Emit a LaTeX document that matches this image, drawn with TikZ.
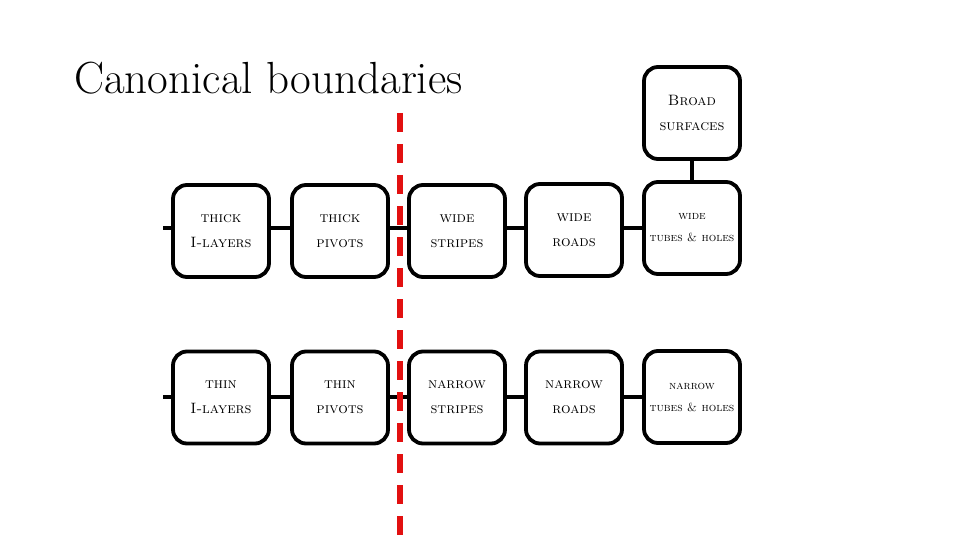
\documentclass[tikz,border=0pt]{standalone}
\begin{document}
\begin{tikzpicture}[x=1pt,y=-1pt,
  box/.style={draw=black, line width=3.8pt, rounded corners=14pt, minimum width=96pt, minimum height=92pt, align=center, inner sep=0pt, font=\fontsize{15}{25}\selectfont},
  tbox/.style={box, font=\fontsize{11.8}{22}\selectfont},
  link/.style={draw=black, line width=3.8pt},
  cut/.style={draw={rgb,255:red,226;green,16;blue,16}, line width=6.5pt, dash pattern=on 19pt off 12pt}]
\useasboundingbox (0,0) rectangle (960,540);
\node[anchor=base west, inner sep=0pt, font=\fontsize{45}{48}\selectfont] (title) at (74,94) {Canonical boundaries};
% top row
\node[box] (a1) at (221,231) {\textsc{thick}\\\textsc{I-layers}};
\node[box] (a2) at (340,231) {\textsc{thick}\\\textsc{pivots}};
\node[box] (a3) at (457,231) {\textsc{wide}\\\textsc{stripes}};
\node[box] (a4) at (574,230) {\textsc{wide}\\\textsc{roads}};
\node[tbox] (a5) at (692,228) {\textsc{wide}\\\textsc{tubes \& holes}};
\node[box] (b5) at (692,113) {\textsc{Broad}\\\textsc{surfaces}};
% bottom row
\node[box] (c1) at (221,397.5) {\textsc{thin}\\\textsc{I-layers}};
\node[box] (c2) at (340,397.5) {\textsc{thin}\\\textsc{pivots}};
\node[box] (c3) at (457,397.5) {\textsc{narrow}\\\textsc{stripes}};
\node[box] (c4) at (574,397.5) {\textsc{narrow}\\\textsc{roads}};
\node[tbox] (c5) at (692,397) {\textsc{narrow}\\\textsc{tubes \& holes}};
\coordinate (as) at (163,228);
\coordinate (cs) at (163,397);
\draw[link] (as) -- (a1.west |- as);
\draw[link] (a1.east |- as) -- (a2.west |- as);
\draw[link] (a2.east |- as) -- (a3.west |- as);
\draw[link] (a3.east |- as) -- (a4.west |- as);
\draw[link] (a4.east |- as) -- (a5.west |- as);
\draw[link] (b5) -- (a5);
\draw[link] (cs) -- (c1.west |- cs);
\draw[link] (c1.east |- cs) -- (c2.west |- cs);
\draw[link] (c2.east |- cs) -- (c3.west |- cs);
\draw[link] (c3.east |- cs) -- (c4.west |- cs);
\draw[link] (c4.east |- cs) -- (c5.west |- cs);
\coordinate (rtop) at (400,113);
\coordinate (rbot) at (400,545);
\draw[cut] (rtop) -- (rbot);
\end{tikzpicture}
\end{document}
